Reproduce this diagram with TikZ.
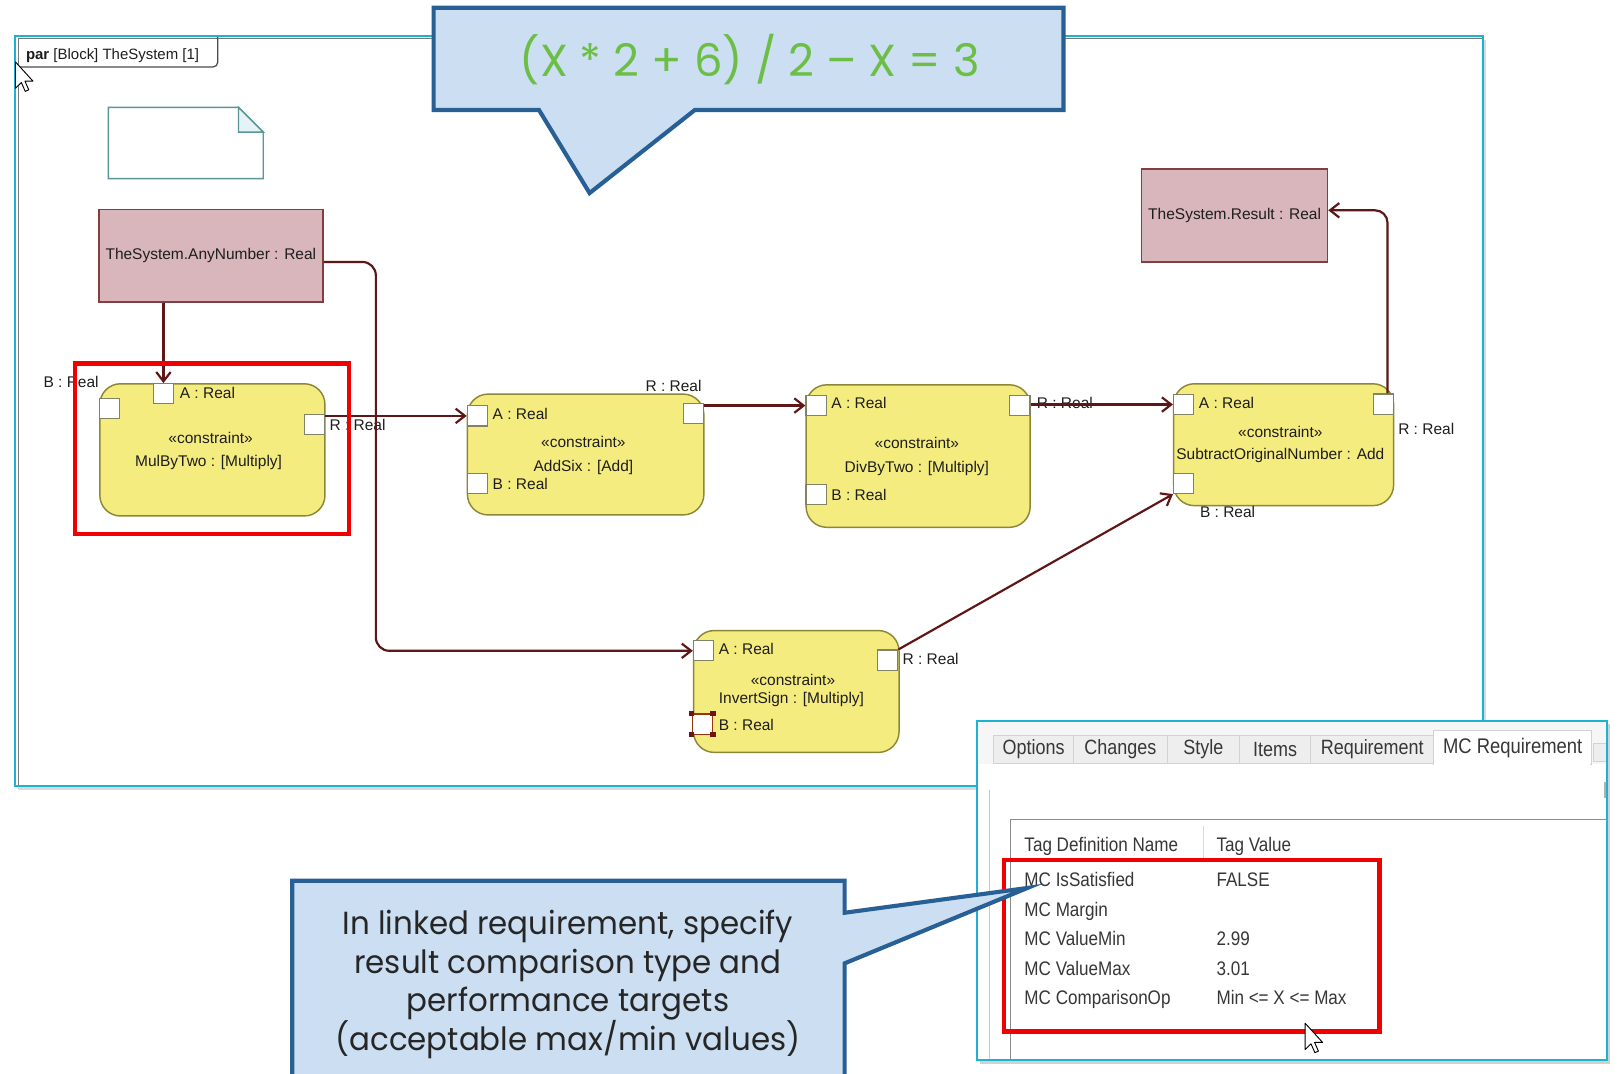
\documentclass[tikz,border=0pt]{standalone}
\usepackage{fontspec}
\usetikzlibrary{arrows.meta,calc}
\newfontfamily\dgfont{Liberation Sans}
\newfontfamily\pnfont[FakeStretch=0.87]{Liberation Sans}
\newfontfamily\cgfont{Poppins}
\newfontfamily\cgnarrow[FakeStretch=0.965]{Poppins}
\newcommand\dgsmall{\dgfont\fontsize{15}{17}\selectfont}
\newcommand\pnsmall{\pnfont\fontsize{19}{22}\selectfont}
\newcommand\pntab{\pnfont\fontsize{20}{22}\selectfont}

\definecolor{cyanline}{RGB}{28,178,210}
\definecolor{framegray}{RGB}{120,120,120}
\definecolor{conncol}{RGB}{95,22,22}
\definecolor{blockfill}{RGB}{245,236,128}
\definecolor{blockline}{RGB}{140,135,55}
\definecolor{portline}{RGB}{130,130,100}
\definecolor{valfill}{RGB}{216,182,187}
\definecolor{valline}{RGB}{130,62,64}
\definecolor{hlred}{RGB}{240,0,0}
\definecolor{callfill}{RGB}{204,223,242}
\definecolor{callline}{RGB}{40,96,150}
\definecolor{eqgreen}{RGB}{108,190,70}
\definecolor{notec}{RGB}{90,150,150}
\definecolor{notefold}{RGB}{228,244,246}
\definecolor{tabfill}{RGB}{238,238,238}
\definecolor{tabline}{RGB}{210,210,210}
\definecolor{paneltext}{RGB}{55,55,55}
\definecolor{diagtext}{RGB}{30,30,30}
\definecolor{handle}{RGB}{110,20,20}

\begin{document}
\begin{tikzpicture}[x=1pt,y=-1pt,
  lbl/.style={inner sep=0pt, font=\dgsmall, text=diagtext, anchor=base west},
  clbl/.style={inner sep=0pt, font=\dgsmall, text=diagtext, anchor=base},
  cblock/.style={draw=blockline, fill=blockfill, line width=1.4pt, rounded corners=20pt, inner sep=0pt, anchor=north west},
  port/.style={draw=portline, fill=white, line width=1.1pt, minimum size=19.5pt, inner sep=0pt, anchor=north west},
  valbox/.style={draw=valline, fill=valfill, line width=1.4pt, inner sep=0pt, anchor=north west, font=\dgsmall, text=diagtext},
  conn/.style={draw=conncol, line width=2.1pt, -{Straight Barb[length=9pt,width=14pt]}},
  hlbox/.style={draw=hlred, line width=4pt},
  callout/.style={draw=callline, fill=callfill, line width=4pt, line join=miter},
  ptext/.style={inner sep=0pt, font=\pnsmall, text=paneltext, anchor=base west},
  tabbox/.style={draw=tabline, fill=tabfill, line width=1pt, inner sep=0pt, anchor=north west, font=\pntab, text=paneltext},
  cursor/.style={draw=black, fill=white, line width=0.9pt, line join=round},
  saytext/.style={inner sep=0pt, anchor=base, font=\cgnarrow\fontsize{31}{37.5}\selectfont, text=black!85},
]
\useasboundingbox (0,0) rectangle (1568,1040);
\fill[white] (0,0) rectangle (1568,1040);

% ---------- parametric diagram frame ----------
\fill[black!15] (17,39) rectangle (1439,765);
\fill[white] (14.5,35) rectangle (1436,761);
\draw[framegray, line width=1.2pt] (18,761) -- (18,37.5) -- (1435,37.5);
\draw[cyanline, line width=2pt] (14.5,35) rectangle (1436,761);
\draw[draw=black!70, line width=1.2pt, rounded corners=5pt] (19,65) -- (211,65) -- (211,36);
\node[inner sep=0pt, anchor=base west, font=\dgfont\fontsize{14.5}{16}\selectfont, text=diagtext] (ftitle) at (25,58) {\textbf{par} [Block] TheSystem [1]};

% comment note
\draw[notec, line width=1.3pt, fill=white] (105,104) -- (231,104) -- (255,128) -- (255,173) -- (105,173) -- cycle;
\draw[notec, line width=1.3pt, fill=notefold] (231,104) -- (231,128) -- (255,128) -- cycle;

% ---------- value properties ----------
\node[valbox, minimum width=217pt, minimum height=90pt] (any) at (95,202) {TheSystem.AnyNumber : Real};
\node[valbox, minimum width=180pt, minimum height=90pt] (res) at (1105,163) {TheSystem.Result : Real};

% ---------- constraint blocks ----------
\node[cblock, minimum width=218pt, minimum height=128pt] (mul) at (96,371) {};
\node[cblock, minimum width=229pt, minimum height=117pt] (add) at (452,381) {};
\node[cblock, minimum width=217pt, minimum height=138pt] (div) at (780,372) {};
\node[cblock, minimum width=213pt, minimum height=118pt] (sub) at (1136,371) {};
\node[cblock, minimum width=199pt, minimum height=118pt] (inv) at (671,610) {};

% ports
\node[port] (mulA) at (148,371) {};
\node[port] (mulB) at (96,385) {};
\node[port] (mulR) at (294.5,401) {};
\node[port] (addA) at (452,392.5) {};
\node[port] (addB) at (452,458) {};
\node[port] (addR) at (661,390.5) {};
\node[port] (divA) at (780,382.5) {};
\node[port] (divB) at (780,468.5) {};
\node[port] (divR) at (977.5,382.5) {};
\node[port] (subA) at (1136,381.5) {};
\node[port] (subB) at (1136,458) {};
\node[port] (subR) at (1329.5,381) {};
\node[port] (invA) at (671,620) {};
\node[port, draw=handle!70!orange] (invB) at (670,691) {};
\node[port] (invR) at (849.5,629) {};
\foreach \c in {north west, north east, south west, south east}
  \fill[handle] ([shift={(-2.5,-2.5)}]invB.\c) rectangle ++(5,5);

% labels
\node[lbl] (mulAl) at (174,386) {A : Real};
\node[lbl] (mulBl) at (42,375) {B : Real};
\node[lbl] (mulRl) at (319,416.5) {R : Real};
\node[clbl] (mulS) at (204,430) {«constraint»};
\node[clbl] (mulN) at (202,451.5) {MulByTwo : [Multiply]};

\node[lbl] (addAl) at (477,406) {A : Real};
\node[lbl] (addBl) at (477,474) {B : Real};
\node[lbl] (addRl) at (625,379.5) {R : Real};
\node[clbl] (addS) at (565,433) {«constraint»};
\node[clbl] (addN) at (565,457) {AddSix : [Add]};

\node[lbl] (divAl) at (805,396) {A : Real};
\node[lbl] (divBl) at (805,484.5) {B : Real};
\node[lbl] (divRl) at (1004,396) {R : Real};
\node[clbl] (divS) at (888,434) {«constraint»};
\node[clbl] (divN) at (888,458) {DivByTwo : [Multiply]};

\node[lbl] (subAl) at (1161,396) {A : Real};
\node[lbl] (subRl) at (1354,421) {R : Real};
\node[lbl] (subBl) at (1162,501) {B : Real};
\node[clbl] (subS) at (1240,424) {«constraint»};
\node[clbl] (subN) at (1240,445) {SubtractOriginalNumber : Add};

\node[lbl] (invAl) at (696,634) {A : Real};
\node[lbl] (invRl) at (874,644) {R : Real};
\node[lbl] (invBl) at (696,707) {B : Real};
\node[clbl] (invS) at (768,664) {«constraint»};
\node[lbl] (invN) at (696,681) {InvertSign : [Multiply]};

% ---------- binding connectors ----------
\coordinate (bus) at (364,440);
\draw[conn] (mulA.north |- any.south) -- (mulA.north);
\draw[conn, rounded corners=13pt] ([yshift=-6pt]any.east) -| (bus) |- (invA.west);
\draw[conn] (mulR.east |- addA.west) -- (addA.west);
\draw[conn] (addR.east |- divA.west) -- (divA.west);
\draw[conn] (divR.east |- subA.west) -- (subA.west);
\draw[conn] (invR.north east) -- (subB.south west);
\draw[conn, rounded corners=12pt] ([xshift=4pt]subR.north) |- ([yshift=5pt]res.east);

\draw[hlbox] (73,352) rectangle (338,517);

% pointer
\begin{scope}[shift={(15,60)}, scale=1.5]
  \draw[cursor] (0,0) -- (0,17) -- (3.8,13.3) -- (6.3,19) -- (8.6,18) -- (6.1,12.4) -- (11.3,12.4) -- cycle;
\end{scope}

% ---------- specification panel ----------
\fill[black!18] (949,701) rectangle (1559,1030);
\fill[white] (946,698) rectangle (1556,1027);
\fill[tabfill!55] (946,698) rectangle (1556,740);
\node[tabbox, minimum width=77pt, minimum height=27pt] (tab1) at (962,712) {Options};
\node[tabbox, minimum width=91pt, minimum height=27pt] (tab2) at (1039,712) {Changes};
\node[tabbox, minimum width=70pt, minimum height=27pt] (tab3) at (1130,712) {Style};
\node[tabbox, minimum width=69pt, minimum height=27pt] (tab4) at (1200,712) {Items};
\node[tabbox, minimum width=119pt, minimum height=27pt] (tab5) at (1269,712) {Requirement};
\node[tabbox, fill=white, minimum width=153pt, minimum height=33pt, font=\pnfont\fontsize{20.5}{22}\selectfont] (tab6) at (1388,707) {MC Requirement};
\node[tabbox, minimum width=14pt, minimum height=17pt] (tab7) at (1543,720) {};
\draw[white, line width=1.5pt] (1389,740) -- (1540,740);
\draw[black!22, line width=1pt] (958,765) -- (958,1027);
\draw[black!45, line width=1.2pt] (979,1027) -- (979,794) -- (1556,794);
\draw[black!15, line width=1pt] (1166,800) -- (1166,835);
\draw[black!30, line width=2pt] (1554,757) -- (1554,773);

\node[ptext] (h1) at (992,825) {Tag Definition Name};
\node[ptext] (h2) at (1178,825) {Tag Value};
\node[ptext] (r1a) at (992,859) {MC IsSatisfied};
\node[ptext] (r1b) at (1178,859) {FALSE};
\node[ptext] (r2a) at (992,888) {MC Margin};
\node[ptext] (r3a) at (992,916) {MC ValueMin};
\node[ptext] (r3b) at (1178,916) {2.99};
\node[ptext] (r4a) at (992,944.5) {MC ValueMax};
\node[ptext] (r4b) at (1178,944.5) {3.01};
\node[ptext] (r5a) at (992,972.5) {MC ComparisonOp};
\node[ptext] (r5b) at (1178,972.5) {Min <= X <= Max};

\draw[cyanline, line width=2pt] (946,698) rectangle (1556,1027);
\draw[hlbox] (972,833) rectangle (1336,999);

\begin{scope}[shift={(1264,991)}, scale=1.5]
  \draw[cursor] (0,0) -- (0,17) -- (3.8,13.3) -- (6.3,19) -- (8.6,18) -- (6.1,12.4) -- (11.3,12.4) -- cycle;
\end{scope}

% ---------- callouts ----------
\draw[callout] (420,7.5) -- (1030,7.5) -- (1030,106.5) -- (673,106.5) -- (571,187) -- (522,106.5) -- (420,106.5) -- cycle;
\node[inner sep=0pt, anchor=base, font=\cgfont\fontsize{43.5}{50}\selectfont, text=eqgreen] (eq) at (726,74) {(X * 2 + 6) / 2 – X = 3};

\draw[callout] (283,853) -- (818,853) -- (818,884) -- (995,860) -- (818,933) -- (818,1046) -- (283,1046) -- cycle;
\node[saytext] (say1) at (550,905) {In linked requirement, specify};
\node[saytext] (say2) at (550,943) {result comparison type and};
\node[saytext] (say3) at (550,980) {performance targets};
\node[saytext] (say4) at (550,1017) {(acceptable max/min values)};
\end{tikzpicture}
\end{document}
